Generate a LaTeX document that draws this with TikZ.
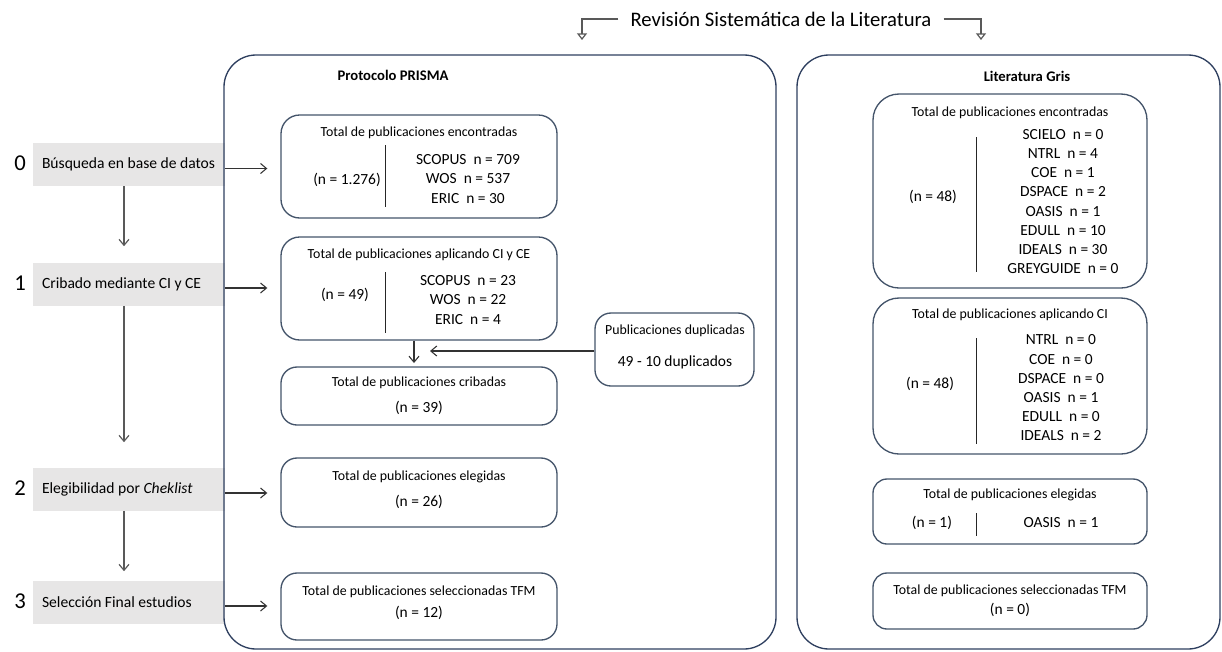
\documentclass[tikz,border=0pt]{standalone}
\usepackage{fontspec}
\setmainfont{Carlito}
\usetikzlibrary{arrows.meta}
\definecolor{boxc}{HTML}{44546A}
\definecolor{contc}{HTML}{2E3F5F}
\definecolor{stepfill}{HTML}{E7E6E6}
\definecolor{arrc}{HTML}{595959}
\tikzset{
 wd/.style={minimum width=#1*0.75pt},
 ht/.style={minimum height=#1*0.75pt},
 ibox/.style={draw=boxc, line width=1pt, rounded corners=14pt, inner sep=0pt},
 cont/.style={draw=contc, line width=1pt, rounded corners=24pt, inner sep=0pt},
 stepbox/.style={fill=stepfill, inner sep=0pt},
 steptxt/.style={font=\fontsize{11.7}{14}\selectfont, inner sep=0pt, anchor=west},
 num/.style={font=\fontsize{17}{20}\selectfont, inner sep=0pt},
 ttl/.style={font=\fontsize{10.4}{12.5}\selectfont, inner sep=0pt},
 dat/.style={font=\fontsize{11.6}{14.4}\selectfont, inner sep=0pt, align=center},
 hdr/.style={font=\bfseries\fontsize{11}{13}\selectfont, inner sep=0pt},
 divl/.style={draw=black!85, line width=0.6pt},
 varr/.style={draw=arrc, line width=0.9pt, -{Straight Barb[length=4.5pt,width=7.5pt]}},
 harr/.style={draw=black!80, line width=0.8pt, -{Straight Barb[length=4.5pt,width=7.5pt]}},
 tarr/.style={draw=arrc, line width=0.9pt, -{Triangle[open,length=5pt,width=7.5pt]}},
}
\begin{document}
\begin{tikzpicture}[x=0.75pt,y=-0.75pt]
\useasboundingbox (0,0) rectangle (1222,651);

% title bracket
\node[font=\fontsize{15.5}{18}\selectfont, inner xsep=9pt, inner ysep=0pt] (T) at (781,19) {Revisión Sistemática de la Literatura};
\coordinate (TL) at (582,40);
\coordinate (TR) at (981,40);
\draw[tarr] (T.west) -| (TL);
\draw[tarr] (T.east) -| (TR);

% step boxes
\node[stepbox, wd=192, ht=43] (B0) at (129,164.5) {};
\node[stepbox, wd=192, ht=43] (B1) at (129,284) {};
\node[stepbox, wd=192, ht=43] (B2) at (129,489) {};
\node[stepbox, wd=192, ht=43] (B3) at (129,602) {};
\node[steptxt] (B0t) at ([xshift=6.75pt]B0.west) {Búsqueda en base de datos};
\node[steptxt] (B1t) at ([xshift=6.75pt]B1.west) {Cribado mediante CI y CE};
\node[steptxt] (B2t) at ([xshift=6.75pt]B2.west) {Elegibilidad por \textit{Cheklist}};
\node[steptxt] (B3t) at ([xshift=6.75pt]B3.west) {Selección Final estudios};
\node[num] (N0) at (20,163) {0};
\node[num] (N1) at (20,283) {1};
\node[num] (N2) at (20,488) {2};
\node[num] (N3) at (20,601) {3};

% containers
\node[cont, wd=552, ht=594] (PR) at (500,352) {};
\node[cont, wd=423, ht=594] (GR) at (1008.5,352) {};
\node[hdr] (PRh) at (393,75) {Protocolo PRISMA};
\node[hdr] (GRh) at (1027,76) {Literatura Gris};

% PRISMA boxes
\node[ibox, wd=276, ht=103] (P1) at (419,166.5) {};
\node[ibox, wd=276, ht=103] (P2) at (419,288.5) {};
\node[ibox, rounded corners=12pt, wd=276, ht=58] (P3) at (419,396) {};
\node[ibox, rounded corners=12pt, wd=276, ht=69] (P4) at (419,492.5) {};
\node[ibox, rounded corners=12pt, wd=276, ht=67] (P5) at (419,606.5) {};
\node[ibox, rounded corners=12pt, wd=159, ht=73] (Dup) at (674.5,349.5) {};

\node[ttl] (P1t) at (419,133) {Total de publicaciones encontradas};
\node[dat] (P1n) at (347,180) {(n = 1.276)};
\draw[divl] (385,145) -- (385,207);
\node[dat] (P1d) at (468,179) {SCOPUS~~n = 709\\WOS~~n = 537\\ERIC~~n = 30};

\node[ttl] (P2t) at (419,255) {Total de publicaciones aplicando CI y CE};
\node[dat] (P2n) at (345,295) {(n = 49)};
\draw[divl] (385,272) -- (385,333);
\node[dat] (P2d) at (468,300) {SCOPUS~~n = 23\\WOS~~n = 22\\ERIC~~n = 4};

\node[ttl] (P3t) at (419,383) {Total de publicaciones cribadas};
\node[dat] (P3n) at (419,408) {(n = 39)};
\node[ttl] (P4t) at (419,477) {Total de publicaciones elegidas};
\node[dat] (P4n) at (419,502) {(n = 26)};
\node[ttl] (P5t) at (419,592) {Total de publicaciones seleccionadas TFM};
\node[dat] (P5n) at (419,613) {(n = 12)};

\node[ttl] (Dupt) at (675,331) {Publicaciones duplicadas};
\node[dat] (Dupn) at (675,362) {49 - 10 duplicados};

% Grey literature boxes
\node[ibox, rounded corners=19.5pt, wd=274, ht=194] (G1) at (1010,191) {};
\node[ibox, rounded corners=19.5pt, wd=274, ht=156] (G2) at (1010,376) {};
\node[ibox, rounded corners=10.5pt, wd=274, ht=65] (G3) at (1010,511.5) {};
\node[ibox, rounded corners=10.5pt, wd=274, ht=56] (G4) at (1010,601) {};

\node[ttl] (G1t) at (1010,113) {Total de publicaciones encontradas};
\node[dat] (G1n) at (933,197) {(n = 48)};
\draw[divl] (976,137) -- (976,272);
\node[dat] (G1d) at (1063,201.5) {SCIELO~~n = 0\\NTRL~~n = 4\\COE~~n = 1\\DSPACE~~n = 2\\OASIS~~n = 1\\EDULL~~n = 10\\IDEALS~~n = 30\\GREYGUIDE~~n = 0};

\node[ttl] (G2t) at (1010,315) {Total de publicaciones aplicando CI};
\node[dat] (G2n) at (930,384) {(n = 48)};
\draw[divl] (976,338) -- (976,444);
\node[dat] (G2d) at (1061,388) {NTRL~~n = 0\\COE~~n = 0\\DSPACE~~n = 0\\OASIS~~n = 1\\EDULL~~n = 0\\IDEALS~~n = 2};

\node[ttl] (G3t) at (1010,495) {Total de publicaciones elegidas};
\node[dat] (G3n) at (932,523) {(n = 1)};
\draw[divl] (976,513) -- (976,536);
\node[dat] (G3d) at (1061,523) {OASIS~~n = 1};

\node[ttl] (G4t) at (1010,591) {Total de publicaciones seleccionadas TFM};
\node[dat] (G4n) at (1010,610) {(n = 0)};

% left flow arrows
\draw[varr, shorten >=12pt] ([xshift=-3.75pt]B0.south) -- ([xshift=-3.75pt]B1.north);
\draw[varr, shorten >=18.75pt] ([xshift=-3.75pt]B1.south) -- ([xshift=-3.75pt]B2.north);
\draw[varr, shorten >=6.75pt] ([xshift=-3.75pt]B2.south) -- ([xshift=-3.75pt]B3.north);

% horizontal arrows
\draw[harr, shorten >=9.75pt] ([yshift=-3pt]B0.east) -- ([yshift=-3pt]B0.east -| P1.west);
\draw[harr, shorten >=9.75pt] ([yshift=-3pt]B1.east) -- ([yshift=-3pt]B1.east -| P2.west);
\draw[harr, shorten >=9.75pt] ([yshift=-3pt]B2.east) -- ([yshift=-3pt]B2.east -| P4.west);
\draw[harr, shorten >=9.75pt] ([yshift=-3pt]B3.east) -- ([yshift=-3pt]B3.east -| P5.west);

% PRISMA internal arrows
\draw[harr, shorten >=2.5pt] ([xshift=-3.75pt]P2.south) -- ([xshift=-3.75pt]P3.north);
\coordinate (dupend) at (430,351);
\draw[harr] (Dup.west |- dupend) -- (dupend);
\end{tikzpicture}
\end{document}
